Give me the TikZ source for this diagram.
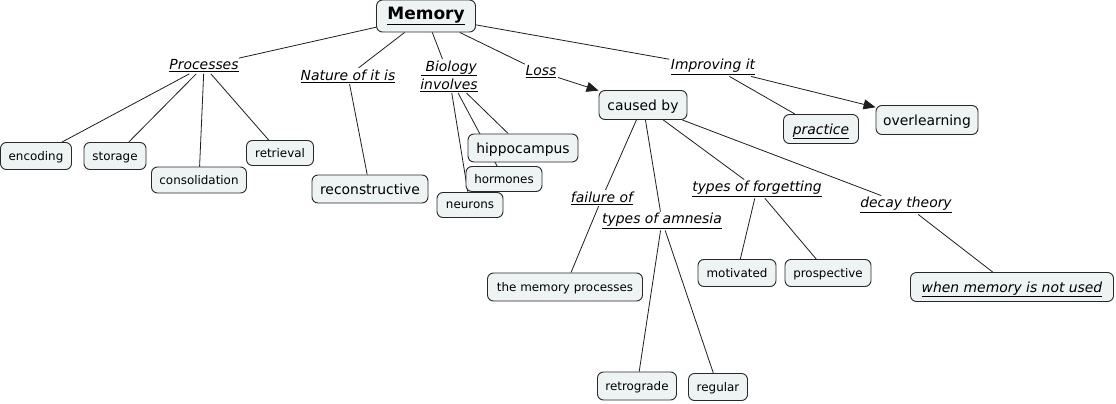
\documentclass[tikz,border=0pt]{standalone}
\usepackage{fontspec}
\setmainfont{DejaVu Sans}
\usetikzlibrary{arrows.meta,backgrounds}
\definecolor{boxfill}{RGB}{238,244,244}
\definecolor{boxline}{RGB}{40,40,40}
\definecolor{edgecol}{RGB}{30,30,30}
\tikzset{
  concept/.style={draw=boxline,line width=0.9pt,fill=boxfill,rounded corners=6pt,inner sep=0pt,align=center},
  small/.style={concept,font=\fontsize{11.9}{14}\selectfont,minimum height=27pt,text depth=0pt},
  big/.style={concept,font=\fontsize{13.9}{16}\selectfont,minimum height=29pt,text depth=0pt},
  lab/.style={inner sep=1.5pt,align=center,yshift=-2pt,font=\fontsize{13.9}{18}\selectfont\itshape},
  edge/.style={draw=edgecol,line width=0.8pt},
  arr/.style={edge,-{Triangle[length=12pt,width=10pt]}}
}
\newcommand{\ul}[1]{\underline{#1}}
\begin{document}
\begin{tikzpicture}[x=1pt,y=-1pt]
\useasboundingbox (0,0) rectangle (1116,404);
% concepts
\node[concept,font=\fontsize{17}{20}\selectfont\bfseries,minimum width=99pt,minimum height=32pt] (mem) at (426,16) {\ul{Memory}};
\node[small,minimum width=71pt] (enc) at (36,156) {encoding};
\node[small,minimum width=62pt] (sto) at (115,156) {storage};
\node[small,minimum width=95pt,minimum height=26pt] (con) at (199,180) {consolidation};
\node[small,minimum width=67pt,minimum height=25pt] (ret) at (280,153) {retrieval};
\node[big,minimum width=116pt,minimum height=28pt] (rec) at (370,189) {reconstructive};
\node[big,minimum width=110pt,minimum height=28pt] (hip) at (523,148) {hippocampus};
\node[small,minimum width=76pt,minimum height=25pt] (hor) at (504,179) {hormones};
\node[small,minimum width=66pt,minimum height=25pt] (neu) at (470,205) {neurons};
\node[big,minimum width=88pt] (cau) at (643,105) {caused by};
\node[big,minimum width=75pt] (pra) at (821,129) {\ul{\itshape practice}};
\node[big,minimum width=102pt] (ove) at (927,120) {overlearning};
\node[small,minimum width=155pt,minimum height=28pt] (tmp) at (565,287) {the memory processes};
\node[small,minimum width=78pt] (mot) at (737,273) {motivated};
\node[small,minimum width=86pt] (pro) at (828,273) {prospective};
\node[big,minimum width=203pt] (whe) at (1012,287) {\ul{\itshape when memory is not used}};
\node[small,minimum width=79pt,minimum height=28pt] (rtg) at (637,386) {retrograde};
\node[small,minimum width=59pt,minimum height=27pt] (reg) at (718,387) {regular};
% linking phrases
\node[lab] (lproc) at (204,64) {\ul{Processes}};
\node[lab] (lnat) at (348,74) {\ul{Nature of it is}};
\node[lab] (lbio) at (449,74) {\ul{\ Biology}\\\ul{involves}};
\node[lab] (lloss) at (541,70) {\ul{Loss}};
\node[lab] (limp) at (713,65) {\ul{Improving it}};
\node[lab] (lfail) at (602,196) {\ul{failure of}};
\node[lab] (lamn) at (662,219) {\ul{types of amnesia}};
\node[lab] (lfor) at (757,187) {\ul{types of forgetting}};
\node[lab] (ldec) at (906,203) {\ul{decay theory}};
% connectors
\begin{scope}[on background layer]
\fill[white] (0,0) rectangle (1116,404);
\draw[edge] (mem) -- (lproc);
\draw[edge] (mem) -- (lnat);
\draw[edge] (mem) -- (lbio);
\draw[edge] (mem) -- (lloss);
\draw[edge] (mem) -- (limp);
\draw[edge] (lproc) -- (enc);
\draw[edge] (lproc) -- (sto);
\draw[edge] (lproc) -- (con);
\draw[edge] (lproc) -- (ret);
\draw[edge] (lnat) -- (rec);
\draw[edge] (lbio) -- (hip);
\draw[edge] (lbio) -- (hor);
\draw[edge] (lbio) -- (neu);
\draw[arr] (lloss) -- (cau);
\draw[edge] (limp) -- (pra);
\draw[arr] (limp) -- (ove);
\draw[edge] (cau) -- (lfail);
\draw[edge] (cau) -- (lamn);
\draw[edge] (cau) -- (lfor);
\draw[edge] (cau) -- (ldec);
\draw[edge] (lfail) -- (tmp);
\draw[edge] (lamn) -- (rtg);
\draw[edge] (lamn) -- (reg);
\draw[edge] (lfor) -- (mot);
\draw[edge] (lfor) -- (pro);
\draw[edge] (ldec) -- (whe);
\end{scope}
\end{tikzpicture}
\end{document}
